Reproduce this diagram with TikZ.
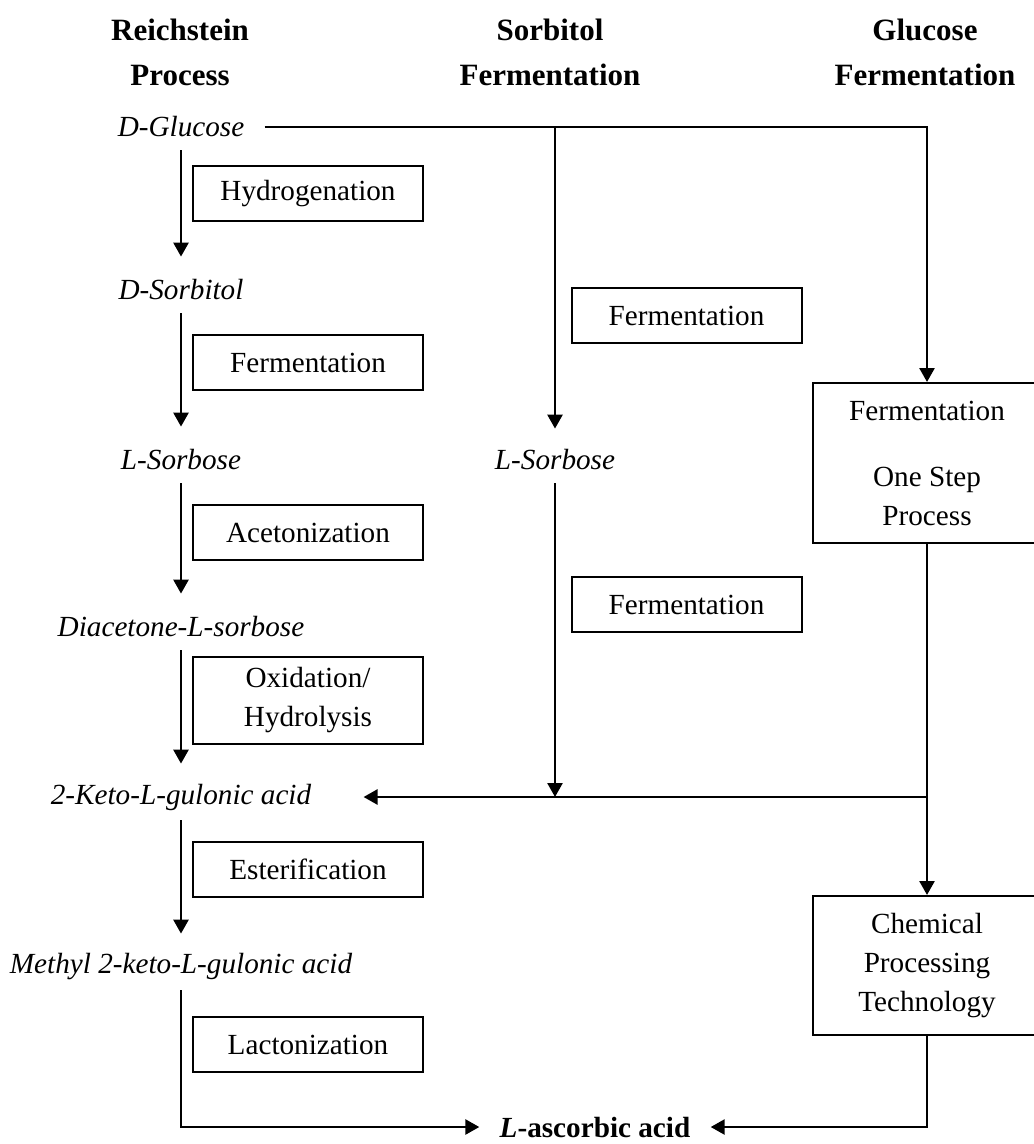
\documentclass[tikz,border=0pt]{standalone}
\usepackage{fontspec}
\setmainfont{Liberation Serif}
\usetikzlibrary{arrows.meta,positioning}
\newcommand{\rxsize}{\fontsize{14.6}{19.5}\selectfont}
\tikzstyle{flow}   =[-{Triangle[length=7pt,width=7.5pt]}, line width=1.3pt]
\tikzstyle{stepbox}=[draw, line width=1pt, minimum width=115pt,
                     minimum height=27.5pt, inner sep=2pt, align=center,
                     font=\rxsize]
\tikzstyle{chem}   =[font=\rxsize\itshape, inner xsep=10pt, inner ysep=0pt,
                     minimum height=23pt]
\tikzstyle{head}   =[font=\fontsize{15.5}{22.5}\selectfont\bfseries,
                     align=center, inner sep=0pt]

\begin{document}
\begin{tikzpicture}[x=0.5pt, y=-0.5pt]
    \useasboundingbox (0,0) rectangle (1033,1144);
    % column heads
    \node[head] (hR) at (180,52) {Reichstein\\Process};
    \node[head] (hS) at (550,52) {Sorbitol\\Fermentation};
    \node[head] (hG) at (925,52) {Glucose\\Fermentation};
    % compounds
    \node[chem] (glu)  at (181,127) {D-Glucose};
    \node[chem] (sbl)  at (181,290) {D-Sorbitol};
    \node[chem] (sbs)  at (181,460) {L-Sorbose};
    \node[chem] (dia)  at (181,627) {Diacetone-L-sorbose};
    \node[chem] (keto) at (181,797) {2-Keto-L-gulonic acid};
    \node[chem] (mkg)  at (181,967) {Methyl 2-keto-L-gulonic acid};
    \node[chem] (sbsm) at (555,460) {L-Sorbose};
    \node[chem, font=\rxsize\bfseries] (asc) at (595,1127)
        {\textit{L}-ascorbic acid};
    % steps
    \node[stepbox] (hyd) at (308,193.5) {Hydrogenation};
    \node[stepbox] (fer) at (308,362.5) {Fermentation};
    \node[stepbox] (ace) at (308,532.5) {Acetonization};
    \node[stepbox, minimum height=43.5pt] (oxi) at (308,700.5)
        {Oxidation/\\Hydrolysis};
    \node[stepbox] (est) at (308,869) {Esterification};
    \node[stepbox] (lac) at (308,1044.5) {Lactonization};
    \node[stepbox] (ferA) at (686.5,315.5) {Fermentation};
    \node[stepbox] (ferB) at (686.5,604.5) {Fermentation};
    \node[stepbox, minimum width=114pt, minimum height=80pt] (one)
        at (927,463) {Fermentation\\[13.5pt]One Step\\Process};
    \node[stepbox, minimum width=114pt, minimum height=69.5pt] (cpt)
        at (927,965.5) {Chemical\\Processing\\Technology};
    % Reichstein chain
    \foreach \a/\b in {glu/sbl, sbl/sbs, sbs/dia, dia/keto, keto/mkg}
        \draw[flow, shorten >=5pt] (\a) -- (\b);
    \draw[flow] (mkg) |- (asc);
    % fermentation routes
    \draw[flow] (glu) -| (one);
    \draw[flow, shorten >=4pt] (glu -| sbsm) -- (sbsm);
    \draw[flow] (sbsm) -- (keto -| sbsm);
    \draw[flow, shorten >=16pt] (keto -| one) -- (keto);
    \draw[flow] (one) -- (cpt);
    \draw[flow] (cpt) |- (asc);
\end{tikzpicture}
\end{document}
